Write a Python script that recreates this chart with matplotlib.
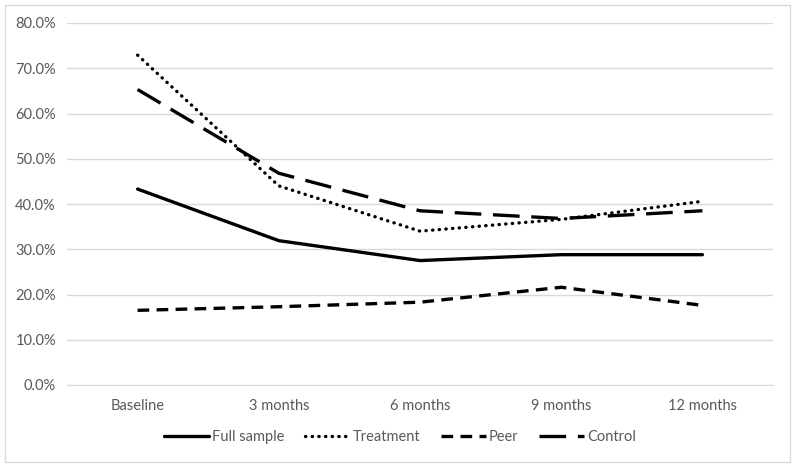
import numpy as np
import matplotlib.pyplot as plt
from matplotlib.patches import Rectangle
from matplotlib.ticker import FuncFormatter

plt.rcParams['font.family'] = ['Lato', 'DejaVu Sans']

# Data (percent)
timepoints = ['Baseline', '3 months', '6 months', '9 months', '12 months']
full_sample = [43.3, 31.9, 27.5, 28.8, 28.8]
treatment = [72.9, 44.0, 34.0, 36.6, 40.6]
peer = [16.5, 17.3, 18.3, 21.6, 17.6]
control = [65.3, 46.8, 38.5, 36.8, 38.5]

y_ticks = np.arange(0, 81, 10)

text_color = '#595959'
grid_color = '#d9d9d9'

fig = plt.figure(figsize=(8, 4.7), dpi=100)
ax = fig.add_axes([67 / 800, (470 - 385) / 470, (773 - 67) / 800, (385 - 23) / 470])

x = np.arange(len(timepoints))
lw = 2.4

ax.plot(x, full_sample, color='black', lw=lw, solid_capstyle='round',
        solid_joinstyle='round', label='Full sample')
ax.plot(x, treatment, color='black', lw=lw, linestyle=(0, (0.1, 1.9)),
        dash_capstyle='round', label='Treatment')
ax.plot(x, peer, color='black', lw=lw, linestyle=(0, (3.5, 2.2)),
        dash_capstyle='butt', label='Peer')
ax.plot(x, control, color='black', lw=lw, linestyle=(0, (8, 3.5)),
        dash_capstyle='butt', label='Control')

ax.set_xlim(-0.5, len(timepoints) - 0.5)
ax.set_ylim(0, 80)
ax.set_yticks(y_ticks)
ax.yaxis.set_major_formatter(FuncFormatter(lambda v, p: f'{v:.1f}%'))
ax.set_xticks(x)
ax.set_xticklabels(timepoints)

ax.grid(axis='y', color=grid_color, lw=1)
ax.set_axisbelow(True)
for s in ax.spines.values():
    s.set_visible(False)
ax.spines['bottom'].set_visible(True)
ax.spines['bottom'].set_color(grid_color)
ax.tick_params(length=0, labelsize=10.5, colors=text_color, pad=8)
ax.tick_params(axis='x', pad=10)

leg = fig.legend(loc='center', bbox_to_anchor=(0.5, (470 - 437) / 470), ncol=4,
                 frameon=False, fontsize=10.5, handlelength=3.1,
                 handletextpad=0.2, columnspacing=1.4)
for t in leg.get_texts():
    t.set_color(text_color)

fig.patches.append(Rectangle((5 / 800, (470 - 462) / 470), 785 / 800, 457 / 470,
                             transform=fig.transFigure, fill=False,
                             edgecolor=grid_color, lw=1))

fig.savefig('out.png', dpi=100)
